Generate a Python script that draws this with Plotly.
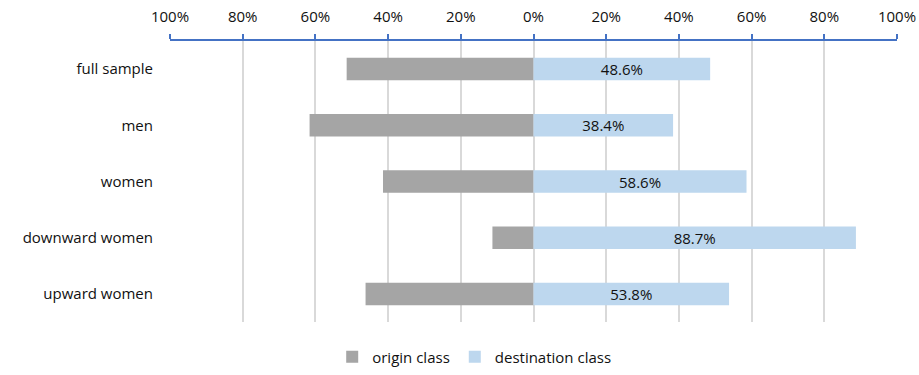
import plotly.graph_objects as go

# Share of respondents identifying with origin vs destination class
groups = ["full sample", "men", "women", "downward women", "upward women"]
destination = [48.6, 38.4, 58.6, 88.7, 53.8]
origin = [round(100 - d, 1) for d in destination]

tick_vals = [-100, -80, -60, -40, -20, 0, 20, 40, 60, 80, 100]
tick_text = ["100%", "80%", "60%", "40%", "20%", "0%", "20%", "40%", "60%", "80%", "100%"]

font_family = "Open Sans, Liberation Sans, sans-serif"

fig = go.Figure()

fig.add_trace(go.Bar(
    y=groups,
    x=[-v for v in origin],
    orientation="h",
    name="origin class",
    marker=dict(color="#a5a5a5", line=dict(width=0)),
    width=0.4,
    hoverinfo="skip",
))

fig.add_trace(go.Bar(
    y=groups,
    x=destination,
    orientation="h",
    name="destination class",
    marker=dict(color="#bdd7ee", line=dict(width=0)),
    width=0.4,
    text=[f"{v:.1f}%" for v in destination],
    textposition="inside",
    insidetextanchor="middle",
    constraintext="none",
    textfont=dict(color="#111111", size=15, family=font_family),
    hoverinfo="skip",
))

fig.update_layout(
    width=919,
    height=375,
    barmode="relative",
    plot_bgcolor="white",
    paper_bgcolor="white",
    margin=dict(l=170, r=22, t=41, b=53, autoexpand=False),
    font=dict(family=font_family, size=15, color="#111111"),
    showlegend=True,
    legend=dict(
        orientation="h",
        xref="container",
        x=0.516,
        xanchor="center",
        yref="container",
        y=0.048,
        yanchor="middle",
        font=dict(size=15, color="#111111"),
        itemwidth=30,
        traceorder="normal",
    ),
    xaxis=dict(
        side="top",
        range=[-100, 100],
        tickvals=tick_vals,
        ticktext=tick_text,
        showgrid=True,
        gridcolor="#d9d9d9",
        gridwidth=2,
        zeroline=False,
        showline=True,
        linecolor="#4472c4",
        linewidth=2,
        ticks="outside",
        ticklen=5,
        tickwidth=2,
        tickcolor="#4472c4",
        ticklabelstandoff=6,
        tickfont=dict(size=15, color="#111111"),
        automargin=False,
        fixedrange=True,
    ),
    yaxis=dict(
        categoryorder="array",
        categoryarray=groups,
        autorange="reversed",
        showgrid=False,
        zeroline=False,
        showline=False,
        ticks="",
        ticklabelstandoff=16,
        tickfont=dict(size=15, color="#111111"),
        automargin=False,
        fixedrange=True,
    ),
)

fig.write_html("out.html")
